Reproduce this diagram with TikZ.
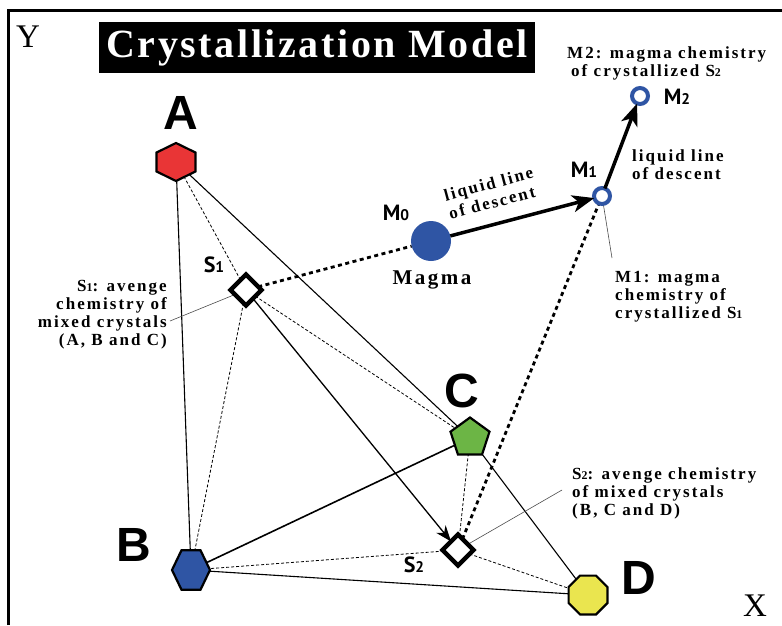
\documentclass[tikz,border=0pt]{standalone}
\usepackage{fontspec}
\usepackage{graphicx}
\setmainfont{Liberation Serif}
\newfontfamily\annfont[LetterSpace=12]{Liberation Serif}
\newfontfamily\titlefont[LetterSpace=6.5]{Liberation Serif}
\newfontfamily\lblfont{PT Sans}
\newfontfamily\bigfont{Liberation Sans}
\usetikzlibrary{shapes.geometric,arrows.meta}
\pgfdeclarelayer{bg}\pgfsetlayers{bg,main}
\definecolor{cred}{HTML}{E93536}
\definecolor{cblue}{HTML}{2F55A4}
\definecolor{cgreen}{HTML}{6CB545}
\definecolor{cyellow}{HTML}{EAE54F}
\newcommand{\sd}[1]{\scalebox{0.7}{#1}}
\begin{document}
\begin{tikzpicture}[x=1pt,y=-1pt,
  mineral/.style={regular polygon,draw=black,line width=2.2pt,inner sep=0pt,outer sep=0pt},
  avg/.style={diamond,draw=black,fill=white,line width=4.5pt,minimum width=31pt,minimum height=31pt,inner sep=0pt,outer sep=0pt},
  melt/.style={circle,draw=cblue,fill=white,line width=4pt,minimum size=16pt,inner sep=0pt,outer sep=0pt},
  biglbl/.style={font=\bigfont\bfseries\fontsize{48}{48}\selectfont,inner sep=0pt},
  smlbl/.style={font=\lblfont\bfseries\fontsize{22}{22}\selectfont,inner sep=0pt},
  note/.style={font=\annfont\bfseries\fontsize{17}{18}\selectfont,inner sep=0pt},
  axis/.style={font=\fontsize{33}{33}\selectfont,inner sep=0pt},
  tie/.style={line width=1.1pt},
  tiedash/.style={line width=0.8pt,dash pattern=on 3pt off 2pt},
  trend/.style={line width=2.8pt,dash pattern=on 4pt off 3.5pt},
  lld/.style={line width=3.5pt,-{Stealth[length=22pt,width=17pt,inset=6pt]}},
  pointer/.style={line width=0.6pt,draw=black!70}
]
\useasboundingbox (0,0) rectangle (782,625);
% frame
\draw[line width=3pt] (8,625) -- (8,10) -- (782,10);
% title
\node[fill=black,text=white,minimum width=436pt,minimum height=51pt,inner sep=0pt,
      font=\titlefont\bfseries\fontsize{40}{40}\selectfont] (title) at (317,47.5) {Crystallization Model};
\node[axis] (Y) at (28,37) {Y};
\node[axis] (X) at (755,606) {X};

% minerals
\node[mineral,regular polygon sides=6,shape border rotate=30,minimum size=38pt,xscale=1.18,fill=cred] (A) at (176,162) {};
\node[mineral,regular polygon sides=6,minimum size=38pt,yscale=1.2,fill=cblue] (B) at (191,570) {};
\node[mineral,regular polygon sides=5,minimum size=41pt,fill=cgreen] (C) at (470,438) {};
\node[mineral,regular polygon sides=8,minimum size=42pt,fill=cyellow] (D) at (588,595) {};
\node[biglbl] (Alab) at (181,113) {A};
\node[biglbl] (Blab) at (134,545) {B};
\node[biglbl] (Clab) at (462,391) {C};
\node[biglbl] (Dlab) at (639,578) {D};

% averages
\node[avg] (S1) at (246,290) {};
\node[avg] (S2) at (458,550) {};
\node[smlbl] (S1lab) at (214,265) {S\sd{1}};
\node[smlbl] (S2lab) at (414,565) {S\sd{2}};

% melts
\node[circle,fill=cblue,minimum size=40pt,inner sep=0pt,outer sep=0pt] (M0) at (431,241) {};
\node[melt] (M1) at (602,196) {};
\node[melt] (M2) at (640,96) {};
\node[smlbl] (M0lab) at (396,213) {M\sd{0}};
\node[smlbl] (M1lab) at (584,170) {M\sd{1}};
\node[smlbl] (M2lab) at (677,97) {M\sd{2}};
\node[note,font=\annfont\bfseries\fontsize{21}{22}\selectfont] (magma) at (432,280) {Magma};

% notes
\node[note,align=right,anchor=north east] (S1note) at (167,280) {S\sd{1}: avenge\\chemistry of\\mixed crystals\\(A, B and C)};
\node[note,align=left,anchor=north west] (S2note) at (572,467) {S\sd{2}: avenge chemistry\\of mixed crystals\\(B, C and D)};
\node[note,align=left,anchor=north west] (M1note) at (615,271) {M1: magma\\chemistry of\\crystallized S\sd{1}};
\node[note,align=left,anchor=north west] (M2note) at (567,46) {M2: magma chemistry\\\hspace*{4pt}of crystallized S\sd{2}};
\node[note,align=left,anchor=north west] (lld2) at (632,149) {liquid line\\of descent};
\node[note,align=left,rotate=15,font=\annfont\bfseries\fontsize{17}{19}\selectfont] (lld1) at (491,193) {liquid line\\of descent};

\coordinate (S1tip) at (170,321);
\coordinate (S2tip) at (562,490);
\coordinate (M1tip) at (612,258);

\begin{pgfonlayer}{bg}
  \draw[tie] (A) -- (B);
  \draw[tie] (A) -- (C);
  \draw[tie,line width=1.6pt] (B) -- (C);
  \draw[tie] (B) -- (D);
  \draw[tie] (C) -- (D);
  \draw[tiedash] (S1) -- (A);
  \draw[tiedash] (S1) -- (B);
  \draw[tiedash] (S1) -- (C);
  \draw[tiedash] (S2) -- (B);
  \draw[tiedash] (S2) -- (C);
  \draw[tiedash] (S2) -- (D);
  \draw[trend] (S1) -- (M0);
  \draw[trend] (S2) -- (M1);
  \draw[pointer] (S1tip) -- (S1);
  \draw[pointer] (S2tip) -- (S2);
  \draw[pointer] (M1) -- (M1tip);
\end{pgfonlayer}
\draw[line width=1.3pt,-{Stealth[length=16pt,width=12pt,inset=5pt]}] (S1) -- (S2);
\draw[lld] (M0) -- (M1);
\draw[lld] (M1) -- (M2);
\end{tikzpicture}
\end{document}
